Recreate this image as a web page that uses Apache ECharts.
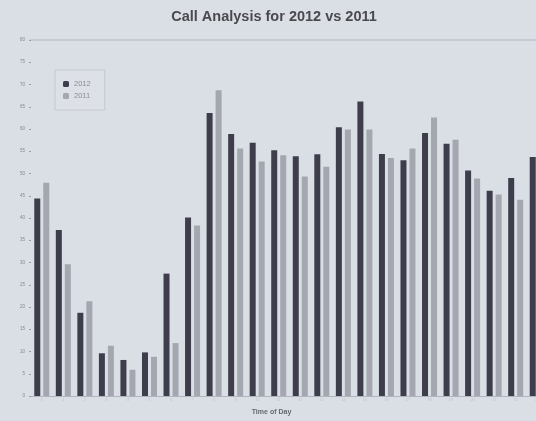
<!DOCTYPE html>
<html><head><meta charset="utf-8">
<script src="https://cdn.jsdelivr.net/npm/echarts@6/dist/echarts.min.js"></script>
<style>html,body{margin:0;padding:0;background:#dadee5;overflow:hidden;}#c{width:548px;height:421px;}</style>
</head><body><div id="c"></div>
<script>
const hours = ['0','1','2','3','4','5','6','7','8','9','10','11','12','13','14','15','16','17','18','19','20','21','22','23'];
const calls2012 = [44.4,37.3,18.7,9.6,8.1,9.8,27.5,40.1,63.6,58.9,56.9,55.2,53.9,54.3,60.4,66.2,54.4,53.0,59.1,56.7,50.7,46.1,49.0,53.7];
const calls2011 = [47.9,29.6,21.3,11.3,5.9,8.8,11.9,38.3,68.7,55.6,52.7,54.1,49.3,51.5,59.9,59.9,53.5,55.6,62.6,57.6,48.9,45.3,44.1,52.0];
const chart = echarts.init(document.getElementById('c'));
chart.setOption({
  backgroundColor:'#dadee5',
  animation:false,
  title:{text:'Call Analysis for 2012 vs 2011',left:'center',top:4,textStyle:{fontFamily:'Liberation Sans',fontSize:14.5,fontWeight:'bold',color:'#4a4a4e'}},
  legend:{orient:'vertical',left:55,top:70,padding:[10,14,10,8],itemWidth:6,itemHeight:6,itemGap:4,
    borderColor:'#c4c8d0',borderWidth:1,backgroundColor:'#dde1e7',
    textStyle:{fontFamily:'Liberation Sans',fontSize:7.5,color:'#8a8c92'},data:['2012','2011']},
  grid:{left:31,right:0,top:40,bottom:21},
  xAxis:[{type:'category',data:hours,name:'Time of Day',nameLocation:'middle',nameGap:13,
    nameTextStyle:{fontFamily:'Liberation Sans',fontSize:7,fontWeight:'bold',color:'#66686e',padding:[0,36,0,0]},
    axisLine:{lineStyle:{color:'#b0b4bc'}},axisTick:{show:false},
    axisLabel:{fontSize:4,color:'#c0c3ca',margin:2}},
   {type:'category',data:hours,position:'top',axisLine:{lineStyle:{color:'#c6cad2',width:2}},axisTick:{show:false},axisLabel:{show:false}}],
  yAxis:{type:'value',min:0,max:80,interval:5,
    axisLine:{show:false},axisTick:{show:true,length:2,lineStyle:{color:'#9a9ca4'}},splitLine:{show:false},
    axisLabel:{fontSize:4.5,color:'#85878e',margin:6}},
  series:[
    {name:'2012',type:'bar',data:calls2012,barWidth:6,barGap:'50%',itemStyle:{color:'#3e3d4c'}},
    {name:'2011',type:'bar',data:calls2011,barWidth:6,itemStyle:{color:'#a5a7b0'}}
  ]
});
</script></body></html>
